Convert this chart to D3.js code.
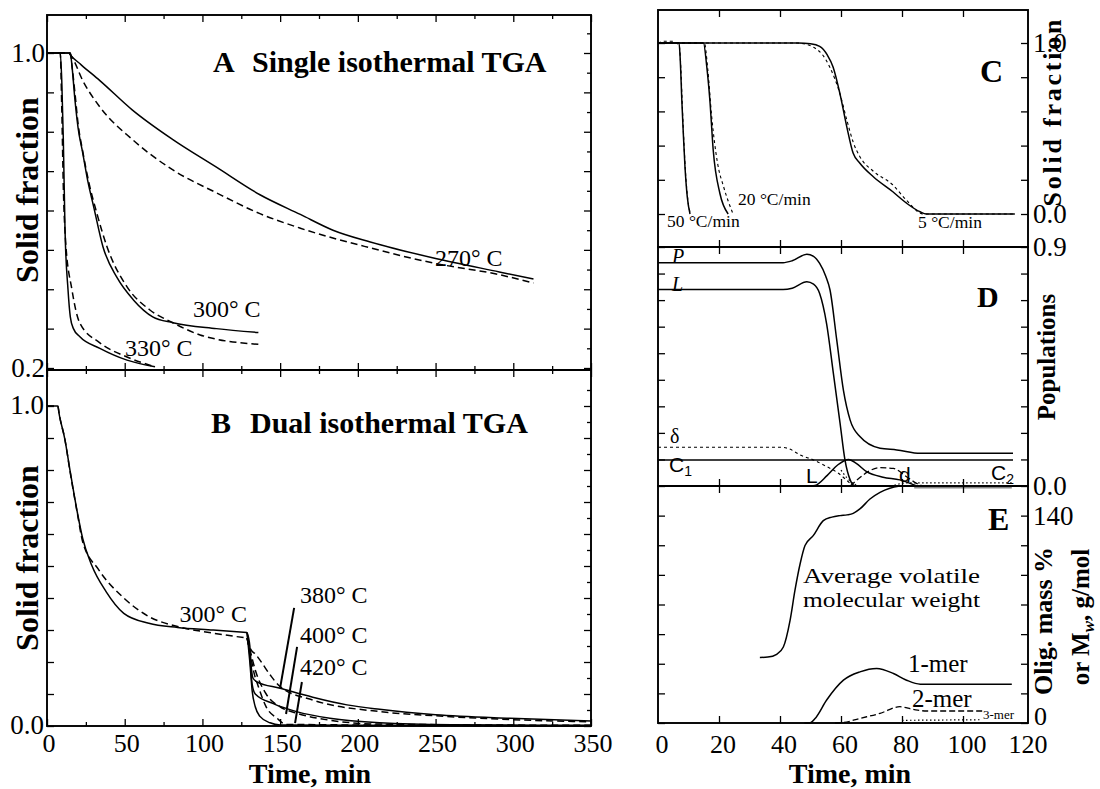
<!DOCTYPE html>
<html><head><meta charset="utf-8">
<script src="https://cdn.jsdelivr.net/npm/d3@7"></script>
<style>body{margin:0;background:#fff}</style>
</head><body><svg id="c" width="1100" height="789"></svg>
<script>
// ---------------- DATA ----------------
// Panel A: single isothermal TGA  [time min, solid fraction]
const a270Exp = [[0,1],[14,1],[15,0.995],[22,0.97],[34,0.93],[55,0.855],[81,0.78],[109,0.71],[137,0.64],[163,0.59],[184,0.55],[208,0.52],[248,0.48],[291,0.444],[313,0.426]];
const a270Model = [[0,1],[14,1],[16,0.99],[23,0.93],[34,0.863],[55,0.78],[81,0.703],[109,0.645],[137,0.592],[163,0.555],[208,0.505],[248,0.467],[291,0.437],[313,0.416]];
const a300Exp = [[0,1],[15,1],[16,0.97],[18,0.88],[20,0.81],[23,0.746],[26.5,0.67],[30,0.61],[36,0.508],[45,0.43],[55.6,0.373],[68,0.33],[81,0.315],[109,0.30],[136,0.29]];
const a300Model = [[0,1],[15,1],[16,0.97],[18,0.898],[20,0.82],[23,0.75],[27,0.67],[32,0.594],[38.6,0.508],[51.5,0.406],[66,0.348],[81,0.315],[98.5,0.284],[136,0.26]];
const a330Exp = [[0,1],[8.5,1],[9.5,0.93],[10.5,0.78],[11.6,0.55],[13.5,0.40],[15,0.33],[17,0.30],[21,0.28],[34,0.25],[51.5,0.22],[69.5,0.203]];
const a330Model = [[0,1],[8.5,1],[9.5,0.86],[10.5,0.66],[12,0.52],[16,0.40],[21,0.315],[34,0.264],[51.5,0.228],[69.5,0.203]];
// Panel B: dual isothermal TGA
const b300Exp = [[0,1],[6.9,1],[8,0.97],[11.5,0.896],[15,0.793],[19.5,0.668],[23,0.585],[28.7,0.503],[38,0.42],[49.4,0.352],[65.5,0.321],[84,0.308],[107,0.30],[128.7,0.292]];
const b300Model = [[0,1],[6.9,1],[8,0.97],[11.5,0.896],[15,0.79],[19.5,0.665],[23,0.575],[33,0.49],[49.4,0.40],[65.5,0.342],[84,0.311],[107,0.29],[128.7,0.275]];
const b380Exp = [[128.7,0.292],[130.5,0.25],[131.5,0.18],[132.5,0.15],[135,0.138],[150,0.118],[171,0.09],[193,0.066],[214,0.052],[250,0.035],[298,0.024],[350,0.016]];
const b380Model = [[128.7,0.275],[131,0.24],[134,0.225],[137,0.206],[143.5,0.16],[150,0.123],[171,0.081],[214,0.045],[250,0.032],[298,0.02],[350,0.013]];
const b400Exp = [[128.7,0.292],[130.5,0.22],[132,0.13],[134,0.10],[145.6,0.07],[160.6,0.045],[182,0.024],[214,0.01],[260,0.004],[350,0.002]];
const b400Model = [[128.7,0.275],[131,0.23],[134,0.175],[141,0.10],[150,0.06],[160.6,0.04],[182,0.018],[214,0.006],[350,0.002]];
const b420Exp = [[128.7,0.292],[130.5,0.2],[132,0.11],[134,0.06],[137,0.03],[143.5,0.01],[150,0.003],[350,0.0]];
const b420Model = [[128.7,0.275],[131,0.22],[133,0.17],[136,0.123],[141,0.06],[148,0.024],[154,0.005],[350,0.0]];
// Panel C: dynamic TGA
const c50Exp = [[0,1],[6.9,1],[7.3,0.9],[7.8,0.67],[8.3,0.47],[8.85,0.275],[9.6,0.1],[10.5,0.0]];
const c50Model = [[0,1],[2,1.01],[4.5,1.01],[6,1.0],[7,0.98],[7.5,0.85],[8,0.62],[8.5,0.42],[9,0.25],[9.8,0.08],[10.7,0.0]];
const c20Exp = [[0,1],[14.9,1],[16,0.86],[17,0.667],[18.1,0.374],[20.3,0.12],[23,0.0]];
const c20Model = [[0,1],[15.2,1],[16.3,0.85],[17.6,0.57],[19.5,0.3],[21.5,0.16],[24.6,0.0]];
const c5Exp = [[0,1],[46,1],[50,0.995],[53,0.98],[55.5,0.93],[57.4,0.86],[59.7,0.70],[61.9,0.51],[64,0.355],[66.2,0.297],[70.6,0.218],[77,0.13],[81.5,0.063],[85.9,0.013],[88,0.0],[117,0.0]];
const c5Model = [[0,1],[45,1],[49,0.99],[51,0.975],[54,0.93],[56.3,0.86],[59.7,0.70],[61.9,0.55],[64,0.42],[66.2,0.335],[70.6,0.25],[77,0.17],[81.5,0.08],[87,0.0],[117,0.0]];
// Panel D: populations
const dP = [[0,0.841],[41,0.841],[44,0.848],[48.8,0.873],[51,0.865],[53,0.838],[55,0.79],[56.4,0.738],[58.6,0.55],[60.8,0.36],[63,0.248],[66.2,0.186],[72.8,0.142],[78.3,0.136],[86,0.123],[116.4,0.123]];
const dL = [[0,0.74],[41,0.74],[44,0.745],[48.8,0.769],[51,0.76],[53,0.725],[55.3,0.61],[57.5,0.424],[59.7,0.236],[61.3,0.098],[63,0.023],[64.6,0.0],[84,0.0]];
const dC1 = [[0,0.098],[116.4,0.098]];
const dDelta = [[0,0.146],[40,0.146],[43,0.14],[46.6,0.117],[51,0.098],[55,0.075],[59,0.049],[63,0.01],[64,0.0]];
const dLbump = [[50,0],[51.5,0.002],[55.5,0.04],[59,0.08],[62.5,0.1],[65,0.085],[68.4,0.054],[73.8,0.033],[79.3,0.023],[84.8,0.0]];
const dDbump = [[63,0.0],[66,0.03],[69,0.055],[72.8,0.069],[77.2,0.066],[81.5,0.035],[84.8,0.01],[87,0.0]];
const dC2 = [[60,0.06],[62,0.03],[64,0.01],[66,0.0],[76,0.0],[80,0.01],[82,0.012],[116.4,0.012]];
const dResidue = [[84,-0.004],[116,-0.004]];
// Panel E: oligomers and average volatile Mw
const eMw = [[33.4,44.2],[36,44.5],[38.9,46.4],[41.1,51.3],[43.3,69.3],[44.9,89.5],[46.6,107.5],[48.2,119.8],[50.9,126.5],[54.2,136.6],[57,139],[59.7,140],[62,140.5],[64,141.5],[66.2,144.5],[69.5,151.2],[72.8,155.7],[76,158.5],[79.3,160]];
const e1mer = [[48,0],[49.8,0],[51.5,3],[55.3,15.5],[60.8,28.9],[66.2,34.5],[71.7,36.8],[77.2,33.4],[81.5,28.9],[86,26.2],[116,26.2]];
const e2mer = [[58,0],[60.8,0.3],[66.2,3.1],[72.8,6.5],[79.3,11],[83.7,9.2],[88.1,8.1],[106.7,8.1]];
const e3mer = [[80,1.8],[106,2.2]];
// ticks & labels
const abTimeTicks = [0,50,100,150,200,250,300,350];
const abTimeMinor = [25,75,125,175,225,275,325];
const abTimeLabels = ["0","50","100","150","200","250","300","350"];
const aFracTicks = [0.2,0.3,0.4,0.5,0.6,0.7,0.8,0.9,1.0];
const aFracMinor = [0.25,0.35,0.45,0.55,0.65,0.75,0.85,0.95,1.05];
const aFracLabelVals = [1.0,0.2], aFracLabels = ["1.0","0.2"];
const bFracTicks = [0,0.1,0.2,0.3,0.4,0.5,0.6,0.7,0.8,0.9,1.0];
const bFracMinor = [0.05,0.15,0.25,0.35,0.45,0.55,0.65,0.75,0.85,0.95,1.05];
const bFracLabelVals = [1.0,0.0], bFracLabels = ["1.0","0.0"];
const rTimeTicks = [0,20,40,60,80,100,120];
const rTimeLabels = ["0","20","40","60","80","100","120"];
const cTicks = [0,0.2,0.4,0.6,0.8,1.0];
const cLabelVals = [1.0,0.0], cLabels = ["1.0","0.0"];
const dTicks = [0,0.1,0.2,0.3,0.4,0.5,0.6,0.7,0.8,0.9];
const dLabelVals = [0.9,0.0], dLabels = ["0.9","0.0"];
const eTicks = [0,20,40,60,80,100,120,140];
const eLabelVals = [140,0], eLabels = ["140","0"];

// ---------------- DRAW ----------------
const svg = d3.select("#c");
const serif = "'Liberation Serif','Times New Roman',serif";
const sans = "'Liberation Sans',Arial,sans-serif";

const xAB = d3.scaleLinear().domain([0,350]).range([47,591]);
const yA = d3.scaleLinear().domain([0.2,1.0]).range([368,53]);
const yB = d3.scaleLinear().domain([0,1]).range([726,406]);
const xR = d3.scaleLinear().domain([0,120]).range([658,1024]);
const yC = d3.scaleLinear().domain([0,1]).range([214,43]);
const yD = d3.scaleLinear().domain([0,0.9]).range([486,247]);
const yE = d3.scaleLinear().domain([0,160]).range([723,486]);

const STY = {
  exp:{dash:null,w:1.5},
  model:{dash:"7,4",w:1.5},
  fine:{dash:"3,3",w:1.1},
  dot:{dash:"1.5,2.5",w:1.2},
};
function plot(xs, ys, data, sty, color){
  const line = d3.line().x(d=>xs(d[0])).y(d=>ys(d[1])).curve(d3.curveMonotoneX);
  svg.append("path").attr("d", line(data)).attr("fill","none")
    .attr("stroke", color||"#000").attr("stroke-width", sty.w)
    .attr("stroke-dasharray", sty.dash).attr("stroke-linejoin","round");
}
function frame(x0,x1,y0,y1){
  svg.append("rect").attr("x",x0).attr("y",y0).attr("width",x1-x0).attr("height",y1-y0)
    .attr("fill","none").attr("stroke","#000").attr("stroke-width",1.9);
}
function axis(gen, tx, ty, vals, size){
  const g = svg.append("g").attr("transform",`translate(${tx},${ty})`)
    .call(gen.tickValues(vals).tickSize(size).tickFormat(""));
  g.select(".domain").remove();
  g.selectAll("line").attr("stroke","#000").attr("stroke-width",1.3);
}
function txt(x,y,s,size,opts={}){
  const t = svg.append("text").attr("x",x).attr("y",y).text(s)
    .attr("font-family", opts.family||serif).attr("font-size",size)
    .attr("font-weight", opts.bold?"bold":"normal")
    .attr("font-style", opts.italic?"italic":"normal")
    .attr("text-anchor", opts.anchor||"start");
  return t;
}
function vtxt(x,y,s,size,bold){
  return svg.append("text").attr("transform",`translate(${x},${y}) rotate(-90)`)
    .attr("text-anchor","middle").attr("font-family",serif).attr("font-size",size)
    .attr("font-weight",bold?"bold":"normal").text(s);
}

// ---- Panel A
frame(47,591,15,370);
axis(d3.axisRight(yA),47,0,aFracTicks,7);
axis(d3.axisLeft(yA),591,0,aFracTicks,7);
axis(d3.axisLeft(yA),591,0,aFracMinor.filter(v=>v<1.09),4);
axis(d3.axisBottom(xAB),0,15,abTimeTicks,7);
axis(d3.axisBottom(xAB),0,15,abTimeMinor,4);
axis(d3.axisTop(xAB),0,370,abTimeTicks,7);
axis(d3.axisTop(xAB),0,370,abTimeMinor,4);
plot(xAB,yA,a270Exp,STY.exp); plot(xAB,yA,a270Model,STY.model);
plot(xAB,yA,a300Exp,STY.exp); plot(xAB,yA,a300Model,STY.model);
plot(xAB,yA,a330Exp,STY.exp); plot(xAB,yA,a330Model,STY.model);
aFracLabelVals.forEach((v,i)=>txt(45,yA(v)+9,aFracLabels[i],27,{anchor:"end"}));
txt(213,72,"A",30,{bold:true}); txt(252,72,"Single isothermal TGA",30,{bold:true});
txt(435,266,"270° C",24); txt(193,317,"300° C",24); txt(125,356,"330° C",24);
vtxt(38,190,"Solid fraction",32,true);

// ---- Panel B
frame(47,591,370,726);
axis(d3.axisRight(yB),47,0,bFracTicks,7);
axis(d3.axisLeft(yB),591,0,bFracTicks,7);
axis(d3.axisLeft(yB),591,0,bFracMinor.filter(v=>v<1.11),4);
axis(d3.axisBottom(xAB),0,370,abTimeTicks,7);
axis(d3.axisBottom(xAB),0,370,abTimeMinor,4);
axis(d3.axisTop(xAB),0,726,abTimeTicks,7);
axis(d3.axisTop(xAB),0,726,abTimeMinor,4);
plot(xAB,yB,b300Exp,STY.exp); plot(xAB,yB,b300Model,STY.model);
plot(xAB,yB,b380Exp,STY.exp); plot(xAB,yB,b380Model,STY.model);
plot(xAB,yB,b400Exp,STY.exp); plot(xAB,yB,b400Model,STY.model);
plot(xAB,yB,b420Exp,STY.exp); plot(xAB,yB,b420Model,STY.model);
bFracLabelVals.forEach((v,i)=>txt(44,yB(v)+8,bFracLabels[i],27,{anchor:"end"}));
abTimeTicks.forEach((v,i)=>txt(xAB(v)+2,752,abTimeLabels[i],26,{anchor:"middle"}));
txt(211,433,"B",30,{bold:true}); txt(250,433,"Dual isothermal TGA",30,{bold:true});
txt(247,622,"300° C",24,{anchor:"end"});
txt(300,603,"380° C",24); txt(300,643,"400° C",24); txt(300,675,"420° C",24);
// leader lines (data coords)
const leaders = [[[159,0.369],[150,0.119]],[[160.9,0.247],[153.8,0.0375]],[[164,0.1375],[159.6,0.009]]];
leaders.forEach(l=>svg.append("line").attr("x1",xAB(l[0][0])).attr("y1",yB(l[0][1]))
  .attr("x2",xAB(l[1][0])).attr("y2",yB(l[1][1])).attr("stroke","#000").attr("stroke-width",2));
vtxt(38,558,"Solid fraction",32,true);
txt(310,783,"Time, min",28,{bold:true,anchor:"middle"});

// ---- Panel C
frame(658,1028,10,247);
axis(d3.axisRight(yC),658,0,cTicks,7);
axis(d3.axisLeft(yC),1028,0,cTicks,7);
axis(d3.axisBottom(xR),0,10,rTimeTicks.slice(1,6),7);
plot(xR,yC,c50Exp,STY.exp); plot(xR,yC,c50Model,STY.fine);
plot(xR,yC,c20Exp,STY.exp); plot(xR,yC,c20Model,STY.fine);
plot(xR,yC,c5Exp,STY.exp); plot(xR,yC,c5Model,STY.fine);
txt(667,227,"50 °C/min",17.5); txt(738,205,"20 °C/min",17.5); txt(918,228,"5 °C/min",17.5);
txt(980,82,"C",32,{bold:true});
cLabelVals.forEach((v,i)=>txt(1033,yC(v)+9,cLabels[i],27));
vtxt(1061,113,"Solid fraction",26,true).attr("textLength",187).attr("lengthAdjust","spacing");

// ---- Panel D
frame(658,1028,247,486);
axis(d3.axisRight(yD),658,0,dTicks,7);
axis(d3.axisLeft(yD),1028,0,dTicks,7);
axis(d3.axisTop(xR),0,247,rTimeTicks.slice(1,6),7);
axis(d3.axisBottom(xR),0,247,rTimeTicks.slice(1,6),7);
axis(d3.axisTop(xR),0,486,rTimeTicks.slice(1,6),7);
plot(xR,yD,dP,STY.exp); plot(xR,yD,dL,STY.exp); plot(xR,yD,dC1,STY.exp);
plot(xR,yD,dDelta,STY.fine); plot(xR,yD,dLbump,STY.exp); plot(xR,yD,dDbump,{dash:"6,3",w:1.3});
plot(xR,yD,dC2,STY.dot); plot(xR,yD,dResidue,{dash:null,w:3},"#888");
txt(672,263,"P",20,{italic:true}); txt(672,291,"L",20,{italic:true});
txt(670,443,"δ",20);
const c1 = txt(669,472,"C",21,{family:sans}); c1.append("tspan").attr("font-size",14).attr("dy",4).text("1");
txt(806,483,"L",21,{family:sans}); txt(899,482,"d",21,{family:sans});
const c2 = txt(991,480,"C",21,{family:sans}); c2.append("tspan").attr("font-size",14).attr("dy",4).text("2");
txt(977,307,"D",30,{bold:true});
dLabelVals.forEach((v,i)=>txt(1033,yD(v)+9,dLabels[i],27));
vtxt(1055,357,"Populations",25,true);

// ---- Panel E
frame(658,1028,486,723);
axis(d3.axisRight(yE),658,0,eTicks,7);
axis(d3.axisLeft(yE),1028,0,eTicks,7);
axis(d3.axisBottom(xR),0,486,rTimeTicks.slice(1,6),7);
axis(d3.axisTop(xR),0,723,rTimeTicks.slice(1,6),7);
plot(xR,yE,eMw,STY.exp); plot(xR,yE,e1mer,STY.exp);
plot(xR,yE,e2mer,{dash:"6,3",w:1.3}); plot(xR,yE,e3mer,STY.dot);
txt(803,583,"Average volatile",22).attr("textLength",177).attr("lengthAdjust","spacingAndGlyphs");
txt(803,607,"molecular weight",22).attr("textLength",177).attr("lengthAdjust","spacingAndGlyphs");
txt(908,672,"1-mer",25); txt(912,707,"2-mer",25); txt(983,719,"3-mer",13);
txt(988,530,"E",32,{bold:true});
txt(1033,525,eLabels[0],27);
txt(1034,725,eLabels[1],26);
rTimeTicks.forEach((v,i)=>txt(xR(v)+4,753,rTimeLabels[i],26,{anchor:"middle"}));
txt(850,783,"Time, min",28,{bold:true,anchor:"middle"});
vtxt(1052,621,"Olig. mass %",26,true);
const mw = svg.append("text").attr("transform","translate(1089,617) rotate(-90)")
  .attr("text-anchor","middle").attr("font-family",serif).attr("font-size",25).attr("font-weight","bold");
mw.append("tspan").text("or M");
mw.append("tspan").attr("font-style","italic").attr("font-size",17).attr("dy",5).text("w");
mw.append("tspan").attr("dy",-5).text(", g/mol");
</script></body></html>
